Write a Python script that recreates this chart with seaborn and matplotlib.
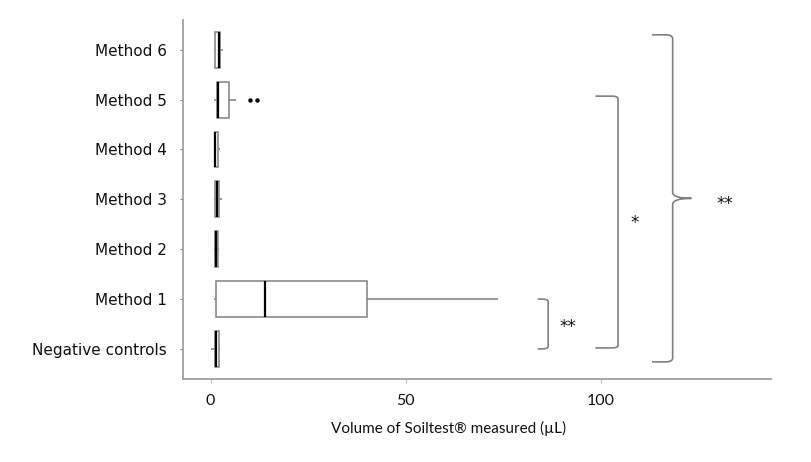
import numpy as np
import pandas as pd
import matplotlib
matplotlib.use("Agg")
import matplotlib.pyplot as plt
from matplotlib.path import Path
from matplotlib.patches import PathPatch
import seaborn as sns

# ---- data ----
categories = ["Method 6", "Method 5", "Method 4", "Method 3", "Method 2", "Method 1", "Negative controls"]
method6 = [0.8, 1.0, 2.2, 2.5, 3.1]
method5 = [0.9, 1.2, 1.4, 1.6, 1.7, 1.8, 1.9, 2.8, 3.8, 4.6, 6.5, 10.1, 11.8]
method4 = [0.8, 1.0, 1.2, 2.0, 2.5]
method3 = [0.8, 1.1, 1.6, 2.2, 3.0]
method2 = [0.8, 1.0, 1.4, 1.9, 2.2]
method1 = [0.8, 1.36, 14.0, 40.2, 73.7]
negative = [0.1, 1.1, 1.3, 2.2, 2.4]
x_ticks = [0, 50, 100]
x_label = "Volume of Soiltest® measured (µL)"
sig_labels = ["**", "*", "**"]

values = [method6, method5, method4, method3, method2, method1, negative]
df = pd.DataFrame({
    "method": np.concatenate([[c] * len(v) for c, v in zip(categories, values)]),
    "volume": np.concatenate(values),
})

sns.set_theme(style="white")
plt.rcParams["font.family"] = ["DejaVu Sans"]

fig = plt.figure(figsize=(8.11, 4.62), dpi=100)
ax = fig.add_axes([0.226, 0.180, 0.7247, 0.777])

edge = "#808080"
sns.boxplot(data=df, x="volume", y="method", order=categories, orient="h",
            width=0.72, color="white", linecolor=edge, linewidth=1.1,
            showcaps=False, ax=ax,
            medianprops={"color": "black", "linewidth": 1.6},
            flierprops={"marker": "o", "markerfacecolor": "black",
                        "markeredgecolor": "black", "markersize": 2.2})

ax.set_xlim(-7.0, 143.6)
ax.set_ylim(6.6, -0.6)
ax.set_xticks(x_ticks)
ax.set_xticklabels([str(t) for t in x_ticks], family="Lato", fontsize=11.5, color="#111111")
ax.set_ylabel("")
ax.set_xlabel(x_label, family="Lato", fontsize=11, color="#111111", labelpad=9)
ax.xaxis.label.set_x(0.452)
for lab in ax.get_yticklabels():
    lab.set_fontsize(11)
    lab.set_color("#111111")
ax.tick_params(axis="y", length=2, width=0.8, color=edge, pad=10, left=True)
ax.tick_params(axis="x", length=3, width=0.8, color="#c0c0c0", pad=8, bottom=True)
for s in ["top", "right"]:
    ax.spines[s].set_visible(False)
for s in ["left", "bottom"]:
    ax.spines[s].set_color("#a0a0a0")
    ax.spines[s].set_linewidth(1.3)


def square_bracket(x0, x1, y0, y1, rx=1.6, ry=0.05):
    verts = [(x0, y0), (x1 - rx, y0), (x1, y0), (x1, y0 + ry),
             (x1, y1 - ry), (x1, y1), (x1 - rx, y1), (x0, y1)]
    codes = [Path.MOVETO, Path.LINETO, Path.CURVE3, Path.CURVE3,
             Path.LINETO, Path.CURVE3, Path.CURVE3, Path.LINETO]
    ax.add_patch(PathPatch(Path(verts, codes), fill=False, edgecolor=edge,
                           linewidth=1.2, clip_on=False))


def curly_brace(x0, xm, xt, y0, ym, y1, rx=1.8, ry=0.08):
    verts = [(x0, y0), (xm - rx, y0), (xm, y0), (xm, y0 + ry),
             (xm, ym - 0.12), (xm, ym), (xt, ym),
             (xt, ym), (xm, ym), (xm, ym + 0.12),
             (xm, y1 - ry), (xm, y1), (xm - rx, y1), (x0, y1)]
    codes = [Path.MOVETO, Path.LINETO, Path.CURVE3, Path.CURVE3,
             Path.LINETO, Path.CURVE3, Path.CURVE3,
             Path.MOVETO, Path.CURVE3, Path.CURVE3,
             Path.LINETO, Path.CURVE3, Path.CURVE3, Path.LINETO]
    ax.add_patch(PathPatch(Path(verts, codes), fill=False, edgecolor=edge,
                           linewidth=1.2, clip_on=False))


square_bracket(83.8, 86.5, 5.0, 6.0)
square_bracket(98.6, 104.4, 0.93, 5.98)
curly_brace(113.1, 118.4, 123.2, -0.3, 2.98, 6.26)

star_kw = dict(ha="center", va="center", fontsize=12, color="#111111", family="DejaVu Sans")
ax.text(91.5, 5.57, sig_labels[0], **star_kw)
ax.text(108.7, 3.48, sig_labels[1], **star_kw)
ax.text(131.8, 3.09, sig_labels[2], **star_kw)

fig.savefig("out.png", dpi=100)
